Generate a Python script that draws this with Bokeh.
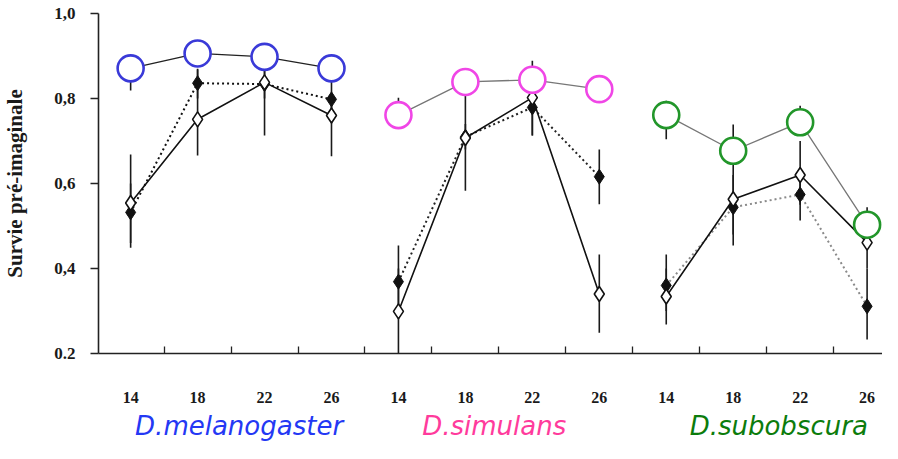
from bokeh.plotting import figure
from bokeh.layouts import column
from bokeh.models import Range1d, FixedTicker, CustomJSTickFormatter, ColumnDataSource
from bokeh.core.properties import value
from bokeh.embed import file_html
from bokeh.resources import INLINE

# ---------------- data ----------------
temps = [14, 18, 22, 26]
species = ["D.melanogaster", "D.simulans", "D.subobscura"]

mel_circle = [0.871, 0.906, 0.898, 0.871]
mel_circle_lo = [0.819, 0.906, 0.898, 0.845]
mel_circle_hi = [0.871, 0.906, 0.898, 0.871]
mel_filled = [0.532, 0.836, 0.834, 0.798]
mel_filled_lo = [0.460, 0.800, 0.800, 0.760]
mel_filled_hi = [0.600, 0.870, 0.870, 0.845]
mel_open = [0.554, 0.751, 0.838, 0.760]
mel_open_lo = [0.449, 0.666, 0.713, 0.664]
mel_open_hi = [0.668, 0.868, 0.870, 0.800]

sim_circle = [0.761, 0.839, 0.844, 0.822]
sim_circle_lo = [0.761, 0.839, 0.844, 0.822]
sim_circle_hi = [0.802, 0.839, 0.844, 0.822]
sim_filled = [0.369, 0.710, 0.779, 0.616]
sim_filled_lo = [0.284, 0.680, 0.713, 0.551]
sim_filled_hi = [0.454, 0.740, 0.850, 0.680]
sim_open = [0.299, 0.707, 0.802, 0.340]
sim_open_lo = [0.200, 0.583, 0.713, 0.249]
sim_open_hi = [0.400, 0.810, 0.889, 0.433]

sub_circle = [0.761, 0.677, 0.744, 0.503]
sub_circle_lo = [0.704, 0.677, 0.744, 0.503]
sub_circle_hi = [0.795, 0.739, 0.783, 0.544]
sub_filled = [0.360, 0.544, 0.574, 0.311]
sub_filled_lo = [0.268, 0.454, 0.513, 0.233]
sub_filled_hi = [0.433, 0.620, 0.620, 0.400]
sub_open = [0.334, 0.563, 0.620, 0.461]
sub_open_lo = [0.300, 0.480, 0.550, 0.400]
sub_open_hi = [0.400, 0.650, 0.700, 0.500]

groups = [
    (mel_circle, mel_circle_lo, mel_circle_hi, mel_filled, mel_filled_lo, mel_filled_hi,
     mel_open, mel_open_lo, mel_open_hi),
    (sim_circle, sim_circle_lo, sim_circle_hi, sim_filled, sim_filled_lo, sim_filled_hi,
     sim_open, sim_open_lo, sim_open_hi),
    (sub_circle, sub_circle_lo, sub_circle_hi, sub_filled, sub_filled_lo, sub_filled_hi,
     sub_open, sub_open_lo, sub_open_hi),
]

# ---------------- styles ----------------
circle_colors = ["#3a3ad8", "#f046e6", "#22962a"]
label_colors = ["#2438f4", "#ff3b9c", "#0c7c0c"]
filled_line_colors = ["#111111", "#222222", "#8a8a8a"]
circle_line_colors = ["#222222", "#777777", "#777777"]
label_x_offsets = [0.12, -0.07, 0.18]

x_range = Range1d(-0.48, 11.23)

p = figure(width=882, height=405, output_backend="svg", toolbar_location=None,
           x_range=x_range, y_range=Range1d(0.2, 1.0),
           min_border_left=95, min_border_right=0, min_border_top=13, min_border_bottom=52)
p.outline_line_color = None
p.xgrid.visible = False
p.ygrid.visible = False
p.background_fill_color = "white"
p.border_fill_color = "white"

for gi, g in enumerate(groups):
    c, c_lo, c_hi, f, f_lo, f_hi, o, o_lo, o_hi = g
    xs = [gi * 4 + j for j in range(len(temps))]
    src = ColumnDataSource(dict(x=xs, c=c, c_lo=c_lo, c_hi=c_hi, f=f, f_lo=f_lo, f_hi=f_hi,
                                o=o, o_lo=o_lo, o_hi=o_hi))
    # error bars
    for lo, hi in (("c_lo", "c_hi"), ("f_lo", "f_hi"), ("o_lo", "o_hi")):
        p.segment(x0="x", y0=lo, x1="x", y1=hi, source=src, line_color="#1a1a1a", line_width=1.6)
    # lines
    p.line("x", "c", source=src, line_color=circle_line_colors[gi], line_width=1.3)
    p.line("x", "f", source=src, line_color=filled_line_colors[gi], line_width=2.0, line_dash="2 3")
    p.line("x", "o", source=src, line_color="#111111", line_width=1.6)
    # markers
    p.scatter("x", "f", source=src, marker="diamond", size=15, fill_color="#111111",
              line_color="#111111", line_width=1)
    p.scatter("x", "o", source=src, marker="diamond", size=15, fill_color="white",
              line_color="#111111", line_width=1.6)
    p.scatter("x", "c", source=src, marker="circle", size=26, fill_color="white",
              line_color=circle_colors[gi], line_width=2.6)

# x axis
xa = p.xaxis[0]
xa.ticker = FixedTicker(ticks=list(range(12)), minor_ticks=[i + 0.5 for i in range(-1, 12)])
xa.formatter = CustomJSTickFormatter(args=dict(temps=temps),
                                     code="return String(temps[Math.round(tick) % 4]);")
xa.major_tick_in = 0
xa.major_tick_out = 0
xa.minor_tick_in = 7
xa.minor_tick_out = 0
xa.minor_tick_line_color = "#222222"
xa.minor_tick_line_width = 1.3
xa.axis_line_color = "#222222"
xa.axis_line_width = 1.6
xa.major_label_standoff = 38
xa.major_label_text_font = "Liberation Serif"
xa.major_label_text_font_style = "bold"
xa.major_label_text_font_size = "16px"
xa.major_label_text_color = "#1a1a1a"

# y axis
ya = p.yaxis[0]
ya.ticker = FixedTicker(ticks=[0.2, 0.4, 0.6, 0.8, 1.0])
ya.formatter = CustomJSTickFormatter(
    code="return tick < 0.3 ? '0.2' : tick.toFixed(1).replace('.', ',');")
ya.major_tick_in = 0
ya.major_tick_out = 8
ya.major_tick_line_color = "#222222"
ya.major_tick_line_width = 1.3
ya.axis_line_color = "#222222"
ya.axis_line_width = 1.6
ya.major_label_standoff = 15
ya.major_label_text_font = "Liberation Serif"
ya.major_label_text_font_style = "bold"
ya.major_label_text_font_size = "17px"
ya.major_label_text_color = "#1a1a1a"
ya.axis_label = "Survie pré-imaginale"
ya.axis_label_text_font = "Liberation Serif"
ya.axis_label_text_font_style = "bold"
ya.axis_label_text_font_size = "21px"
ya.axis_label_text_color = "#1a1a1a"
ya.axis_label_standoff = 24

# species names strip (below the axis)
q = figure(width=882, height=38, output_backend="svg", toolbar_location=None,
           x_range=x_range, y_range=Range1d(0, 38),
           x_axis_location=None, y_axis_location=None,
           min_border_left=95, min_border_right=0, min_border_top=0, min_border_bottom=0)
q.xgrid.visible = False
q.ygrid.visible = False
q.outline_line_color = None
q.background_fill_color = "white"
q.border_fill_color = "white"
lab_src = ColumnDataSource(dict(
    x=[gi * 4 + 1.5 + label_x_offsets[gi] for gi in range(len(species))],
    y=[18] * len(species), text=species, color=label_colors))
q.text(x="x", y="y", text="text", source=lab_src, text_color="color",
       text_font=value("DejaVu Sans"), text_font_style="italic", text_font_size="26px",
       text_align="center", text_baseline="middle")

layout = column(p, q, spacing=0)
open("out.html", "w").write(file_html(layout, INLINE))
